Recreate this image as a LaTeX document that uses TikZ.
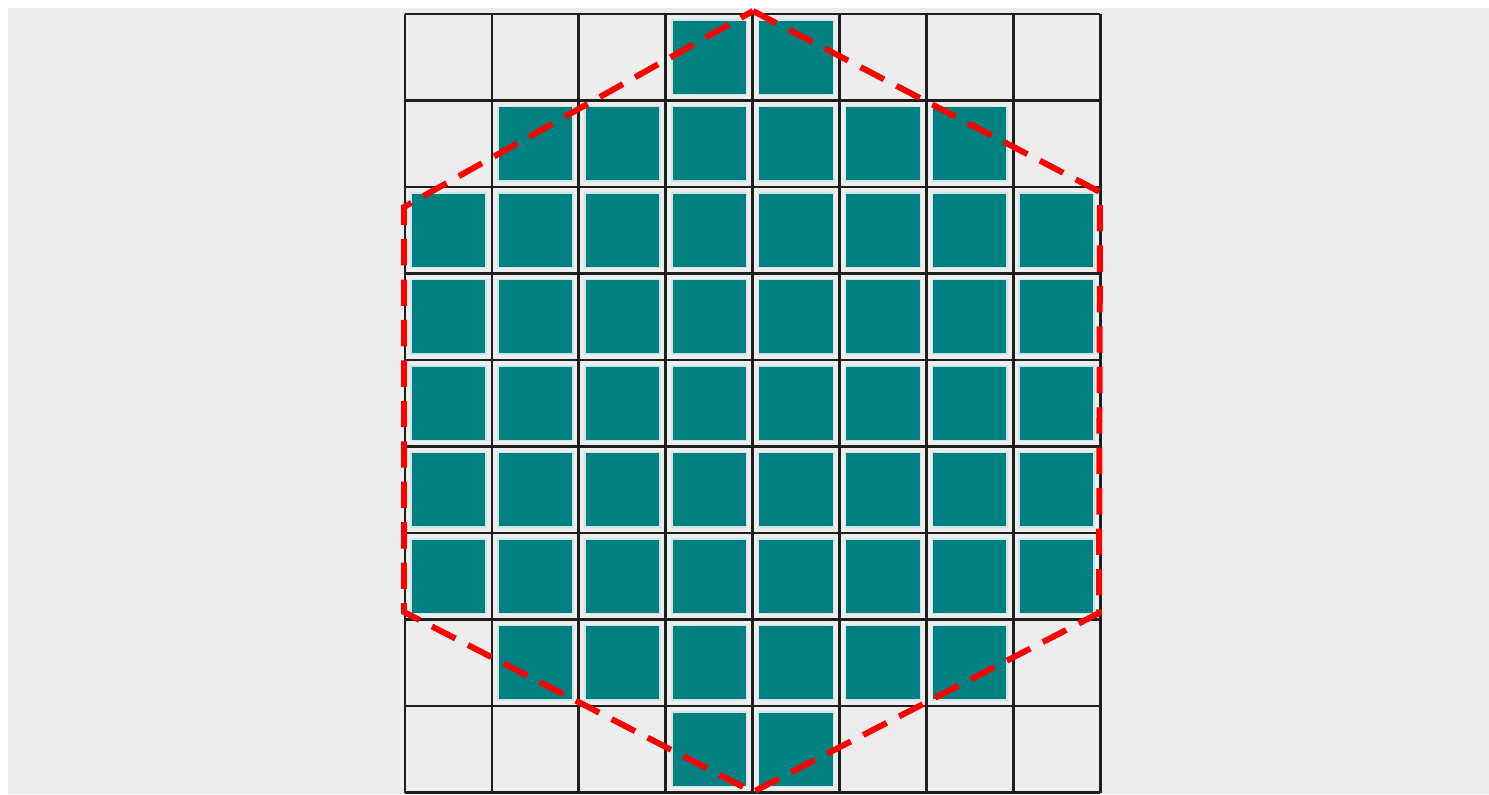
\documentclass[tikz,border=0pt]{standalone}
\usetikzlibrary{calc}
\definecolor{bggray}{HTML}{EDEDED}
\definecolor{tealfill}{HTML}{008080}
\definecolor{gridcol}{HTML}{1E1E1E}

\begin{document}
\begin{tikzpicture}[x=0.01cm, y=-0.01cm,
    cellbox/.style={fill=tealfill, draw=white!80!tealfill, line width=0.5pt},
    gridline/.style={draw=gridcol, line width=0.75pt},
    hexline/.style={draw=red, line width=1.7pt, dash pattern=on 7.5pt off 4pt}
  ]
  \useasboundingbox (0,0) rectangle (1489,794);
  \fill[white] (0,0) rectangle (1489,794);
  \fill[bggray] (8,8) rectangle (1489,794);

  % filled cells, row / first column / last column
  \foreach \r/\a/\b in {0/3/4,1/1/6,2/0/7,3/0/7,4/0/7,5/0/7,6/0/7,7/1/6,8/3/4}
    \foreach \c in {\a,...,\b}
      \path[cellbox] ({405+\c*86.9+6},{14+\r*86.5+6}) rectangle ({405+(\c+1)*86.9-6},{14+(\r+1)*86.5-6});

  % grid
  \foreach \c in {0,...,8}
    \draw[gridline] ({405+\c*86.9},14) -- ({405+\c*86.9},792.5);
  \foreach \r in {0,...,9}
    \draw[gridline] (405,{14+\r*86.5}) -- (1100.2,{14+\r*86.5});

  % hexagon
  \coordinate (top) at (753,11);
  \coordinate (upright) at (1100,192);
  \coordinate (lowright) at (1099,613);
  \coordinate (bottom) at (753,792);
  \coordinate (lowleft) at (404,612);
  \coordinate (upleft) at (404,207);
  \draw[hexline] (top) -- (upright) -- (lowright) -- (bottom) -- (lowleft) -- (upleft) -- cycle;
\end{tikzpicture}
\end{document}
